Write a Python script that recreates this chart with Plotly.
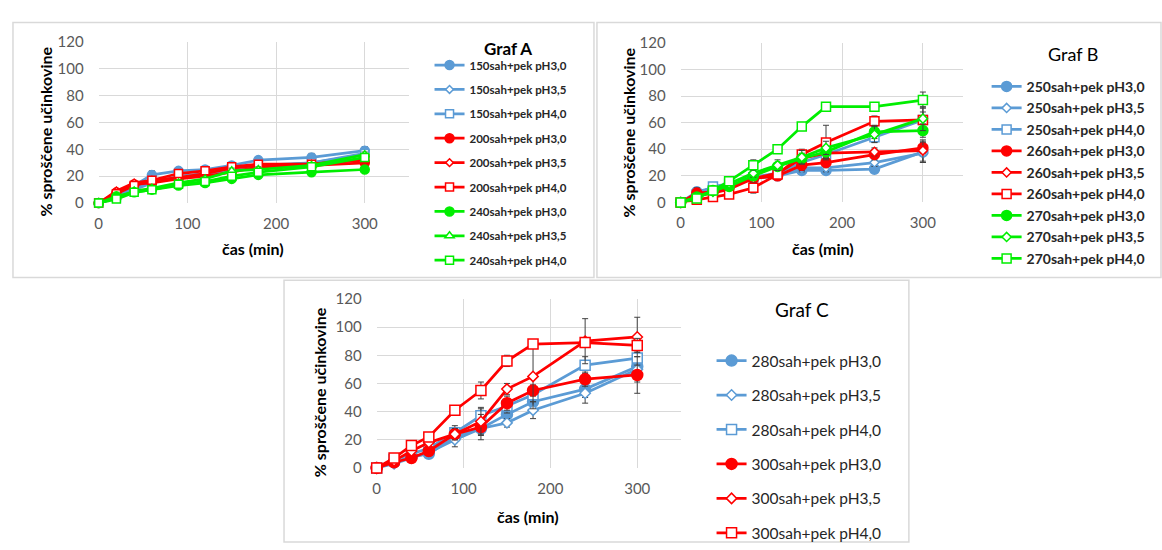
import plotly.graph_objects as go

W, H = 1162, 550

def px(p):
    return p / W

def py(p):
    return 1 - p / H

time_min = [0, 20, 40, 60, 90, 120, 150, 180, 240, 300]

# ---------------- Graf A ----------------
a_names = ["150sah+pek pH3,0", "150sah+pek pH3,5", "150sah+pek pH4,0",
           "200sah+pek pH3,0", "200sah+pek pH3,5", "200sah+pek pH4,0",
           "240sah+pek pH3,0", "240sah+pek pH3,5", "240sah+pek pH4,0"]
a_150_ph30 = [0, 6, 13, 21, 24, 25, 28, 32, 34, 39]
a_150_ph35 = [0, 5, 11, 16, 19, 22, 25, 28, 30, 36]
a_150_ph40 = [0, 4, 10, 15, 20, 22, 25, 27, 30, 37]
a_200_ph30 = [0, 8, 14, 15, 18, 20, 23, 27, 28, 30]
a_200_ph35 = [0, 9, 15, 17, 19, 22, 26, 28, 29, 32]
a_200_ph40 = [0, 7, 13, 17, 22, 24, 27, 29, 29, 33]
a_240_ph30 = [0, 5, 8, 10, 13, 15, 18, 21, 23, 25]
a_240_ph35 = [0, 4, 9, 11, 15, 18, 24, 25, 28, 36]
a_240_ph40 = [0, 3, 8, 10, 14, 16, 20, 23, 27, 34]
a_err_150_ph30 = [0, 1, 1, 3, 2, 2, 2, 2, 3, 3]
a_err_150_ph35 = [0, 1, 1, 2, 2, 2, 2, 2, 2, 2]
a_err_150_ph40 = [0, 1, 1, 2, 2, 1, 2, 2, 2, 2]
a_err_200_ph30 = [0, 1, 1, 1, 1, 2, 2, 2, 2, 2]
a_err_200_ph35 = [0, 1, 1, 1, 1, 1, 2, 2, 2, 2]
a_err_200_ph40 = [0, 1, 1, 1, 2, 2, 1, 2, 2, 2]
a_err_240_ph30 = [0, 1, 1, 1, 1, 1, 1, 1, 1, 2]
a_err_240_ph35 = [0, 1, 1, 1, 1, 1, 2, 2, 2, 2]
a_err_240_ph40 = [0, 1, 1, 1, 1, 1, 1, 2, 2, 2]

# ---------------- Graf B ----------------
b_names = ["250sah+pek pH3,0", "250sah+pek pH3,5", "250sah+pek pH4,0",
           "260sah+pek pH3,0", "260sah+pek pH3,5", "260sah+pek pH4,0",
           "270sah+pek pH3,0", "270sah+pek pH3,5", "270sah+pek pH4,0"]
b_250_ph30 = [0, 8, 11, 13, 18, 20, 24, 24, 25, 38]
b_250_ph35 = [0, 7, 11, 14, 19, 21, 26, 26, 30, 37]
b_250_ph40 = [0, 6, 12, 14, 19, 22, 30, 36, 49, 62]
b_260_ph30 = [0, 7, 8, 12, 18, 20, 28, 30, 36, 41]
b_260_ph35 = [0, 5, 7, 10, 18, 22, 33, 37, 38, 39]
b_260_ph40 = [0, 2, 4, 6, 11, 21, 36, 45, 61, 62]
b_270_ph30 = [0, 4, 9, 12, 20, 27, 33, 38, 53, 54]
b_270_ph35 = [0, 4, 8, 14, 22, 28, 34, 41, 51, 63]
b_270_ph40 = [0, 3, 9, 16, 28, 40, 57, 72, 72, 77]
b_err_250_ph30 = [0, 3, 2, 2, 2, 2, 3, 2, 2, 8]
b_err_250_ph35 = [0, 2, 2, 2, 3, 2, 3, 3, 3, 7]
b_err_250_ph40 = [0, 2, 2, 2, 3, 3, 4, 4, 4, 6]
b_err_260_ph30 = [0, 4, 2, 2, 3, 3, 4, 4, 4, 4]
b_err_260_ph35 = [0, 2, 2, 2, 3, 2, 4, 4, 3, 8]
b_err_260_ph40 = [0, 2, 2, 2, 4, 3, 4, 13, 4, 9]
b_err_270_ph30 = [0, 2, 2, 2, 3, 3, 4, 4, 5, 5]
b_err_270_ph35 = [0, 2, 2, 2, 3, 4, 5, 5, 6, 9]
b_err_270_ph40 = [0, 2, 2, 2, 4, 3, 3, 2, 2, 6]

# ---------------- Graf C ----------------
c_names = ["280sah+pek pH3,0", "280sah+pek pH3,5", "280sah+pek pH4,0",
           "300sah+pek pH3,0", "300sah+pek pH3,5", "300sah+pek pH4,0"]
c_280_ph30 = [0, 4, 8, 10, 22, 28, 38, 47, 56, 72]
c_280_ph35 = [0, 3, 7, 11, 20, 28, 32, 41, 53, 70]
c_280_ph40 = [0, 6, 10, 14, 25, 37, 44, 52, 73, 78]
c_300_ph30 = [0, 4, 7, 12, 24, 29, 46, 55, 63, 66]
c_300_ph35 = [0, 5, 12, 18, 24, 33, 56, 65, 90, 93]
c_300_ph40 = [0, 7, 16, 22, 41, 55, 76, 88, 89, 87]
c_err_280_ph30 = [0, 2, 2, 2, 4, 4, 4, 5, 6, 6]
c_err_280_ph35 = [0, 2, 2, 2, 5, 5, 3, 6, 7, 9]
c_err_280_ph40 = [0, 2, 2, 2, 5, 6, 5, 5, 6, 5]
c_err_300_ph30 = [0, 2, 2, 2, 4, 9, 5, 4, 5, 13]
c_err_300_ph35 = [0, 2, 2, 2, 4, 9, 4, 23, 16, 14]
c_err_300_ph40 = [0, 2, 2, 2, 3, 6, 4, 3, 3, 5]

BLUE, RED, GREEN = "#5B9BD5", "#FF0000", "#00EE00"
FONT = "Lato"

fig = go.Figure()

def add_series(name, y, err, color, symbol, size, ax, legend, group):
    filled = symbol == "circle"
    fig.add_trace(go.Scatter(
        x=time_min, y=y, name=name, mode="lines+markers",
        xaxis="x" + ax, yaxis="y" + ax, legend=legend, legendgroup=group,
        line=dict(color=color, width=2.75),
        marker=dict(symbol=symbol, size=size,
                    color=color if filled else "white",
                    line=dict(color=color, width=1.5)),
        error_y=dict(type="data", array=err, visible=True, color="#404040",
                     thickness=1, width=3),
        cliponaxis=False,
    ))

a_series = [(a_150_ph30, a_err_150_ph30, BLUE, "circle"),
            (a_150_ph35, a_err_150_ph35, BLUE, "diamond"),
            (a_150_ph40, a_err_150_ph40, BLUE, "square"),
            (a_200_ph30, a_err_200_ph30, RED, "circle"),
            (a_200_ph35, a_err_200_ph35, RED, "diamond"),
            (a_200_ph40, a_err_200_ph40, RED, "square"),
            (a_240_ph30, a_err_240_ph30, GREEN, "circle"),
            (a_240_ph35, a_err_240_ph35, GREEN, "triangle-up"),
            (a_240_ph40, a_err_240_ph40, GREEN, "square")]
for i, (y, e, c, s) in enumerate(a_series):
    sz = 9 if s == "circle" else (6 if s == "diamond" else 8)
    add_series(a_names[i], y, e, c, s, sz, "", "legend", "a%d" % i)

b_series = [(b_250_ph30, b_err_250_ph30, BLUE, "circle"),
            (b_250_ph35, b_err_250_ph35, BLUE, "diamond"),
            (b_250_ph40, b_err_250_ph40, BLUE, "square"),
            (b_260_ph30, b_err_260_ph30, RED, "circle"),
            (b_260_ph35, b_err_260_ph35, RED, "diamond"),
            (b_260_ph40, b_err_260_ph40, RED, "square"),
            (b_270_ph30, b_err_270_ph30, GREEN, "circle"),
            (b_270_ph35, b_err_270_ph35, GREEN, "diamond"),
            (b_270_ph40, b_err_270_ph40, GREEN, "square")]
for i, (y, e, c, s) in enumerate(b_series):
    sz = 10 if s == "circle" else (7 if s == "diamond" else 9)
    add_series(b_names[i], y, e, c, s, sz, "2", "legend2", "b%d" % i)

c_series = [(c_280_ph30, c_err_280_ph30, BLUE, "circle"),
            (c_280_ph35, c_err_280_ph35, BLUE, "diamond"),
            (c_280_ph40, c_err_280_ph40, BLUE, "square"),
            (c_300_ph30, c_err_300_ph30, RED, "circle"),
            (c_300_ph35, c_err_300_ph35, RED, "diamond"),
            (c_300_ph40, c_err_300_ph40, RED, "square")]
for i, (y, e, c, s) in enumerate(c_series):
    sz = 11 if s == "circle" else (8 if s == "diamond" else 10)
    add_series(c_names[i], y, e, c, s, sz, "3", "legend3", "c%d" % i)

grid = "#D9D9D9"
tickfont = dict(family=FONT, size=15, color="#595959")

def xaxis(domain, anchor):
    return dict(domain=domain, anchor=anchor, range=[0, 350],
                tickvals=[0, 100, 200, 300], showgrid=True, gridcolor=grid,
                gridwidth=1, zeroline=False, showline=False, ticks="",
                ticklabelstandoff=10,
                tickfont=tickfont, fixedrange=True)

def yaxis(domain, anchor):
    return dict(domain=domain, anchor=anchor, range=[0, 120],
                tickvals=[0, 20, 40, 60, 80, 100, 120], showgrid=True,
                gridcolor=grid, gridwidth=1, zeroline=False, showline=False,
                ticks="", ticklabelstandoff=14,
                tickfont=tickfont, fixedrange=True)

layout = dict(
    width=W, height=H, margin=dict(l=0, r=0, t=0, b=0),
    paper_bgcolor="white", plot_bgcolor="white",
    xaxis=xaxis([px(95), px(406.5)], "y"),
    yaxis=yaxis([py(200), py(33)], "x"),
    xaxis2=xaxis([px(679), px(962.6)], "y2"),
    yaxis2=yaxis([py(199.3), py(34)], "x2"),
    xaxis3=xaxis([px(374), px(679)], "y3"),
    yaxis3=yaxis([py(474.3), py(299.3)], "x3"),
    legend=dict(x=px(427), y=py(42), xanchor="left", yanchor="top",
                traceorder="grouped", tracegroupgap=5.4,
                font=dict(family=FONT, size=11.5, color="#262626", weight="bold"),
                bgcolor="rgba(0,0,0,0)"),
    legend2=dict(x=px(986), y=py(63), xanchor="left", yanchor="top",
                 traceorder="grouped", tracegroupgap=0.3,
                 font=dict(family=FONT, size=14, color="#262626", weight="bold"),
                 bgcolor="rgba(0,0,0,0)"),
    legend3=dict(x=px(710), y=py(346), xanchor="left", yanchor="top",
                 traceorder="grouped", tracegroupgap=11.3,
                 font=dict(family=FONT, size=15.5, color="#262626"),
                 bgcolor="rgba(0,0,0,0)"),
    showlegend=True,
)
fig.update_layout(**layout)

ann = []
ytitle = "% sproščene učinkovine"
xtitle = "čas (min)"
title_font = dict(family=FONT, size=16, color="black", weight="bold")
for (xx, yy) in [(42, 126), (627, 127), (316, 396)]:
    ann.append(dict(x=px(xx), y=py(yy), xref="paper", yref="paper", text=ytitle,
                    textangle=-90, showarrow=False, font=title_font,
                    xanchor="center", yanchor="middle"))
for (xx, yy) in [(250, 247), (822, 247), (526, 525)]:
    ann.append(dict(x=px(xx), y=py(yy), xref="paper", yref="paper", text=xtitle,
                    showarrow=False, font=title_font,
                    xanchor="center", yanchor="middle"))
ann.append(dict(x=px(506), y=py(40), xref="paper", yref="paper", text="Graf A",
                showarrow=False, font=dict(family=FONT, size=17, color="black", weight="bold"),
                xanchor="center", yanchor="middle", borderpad=0))
ann.append(dict(x=px(1073), y=py(46), xref="paper", yref="paper", text="Graf B",
                showarrow=False, font=dict(family=FONT, size=18, color="black"),
                xanchor="center", yanchor="middle"))
ann.append(dict(x=px(801), y=py(310), xref="paper", yref="paper", text="Graf C",
                showarrow=False, font=dict(family=FONT, size=19, color="black"),
                xanchor="center", yanchor="middle"))
fig.update_layout(annotations=ann)

border = dict(color="#D9D9D9", width=1.5)
shapes = [
    dict(type="rect", xref="paper", yref="paper", x0=px(9), x1=px(592),
         y0=py(277), y1=py(13), line=border),
    dict(type="rect", xref="paper", yref="paper", x0=px(595), x1=px(1161),
         y0=py(277), y1=py(13), line=border),
    dict(type="rect", xref="paper", yref="paper", x0=px(281), x1=px(908),
         y0=py(551), y1=py(280), line=border),
]
fig.update_layout(shapes=shapes)

fig.write_html("out.html")
